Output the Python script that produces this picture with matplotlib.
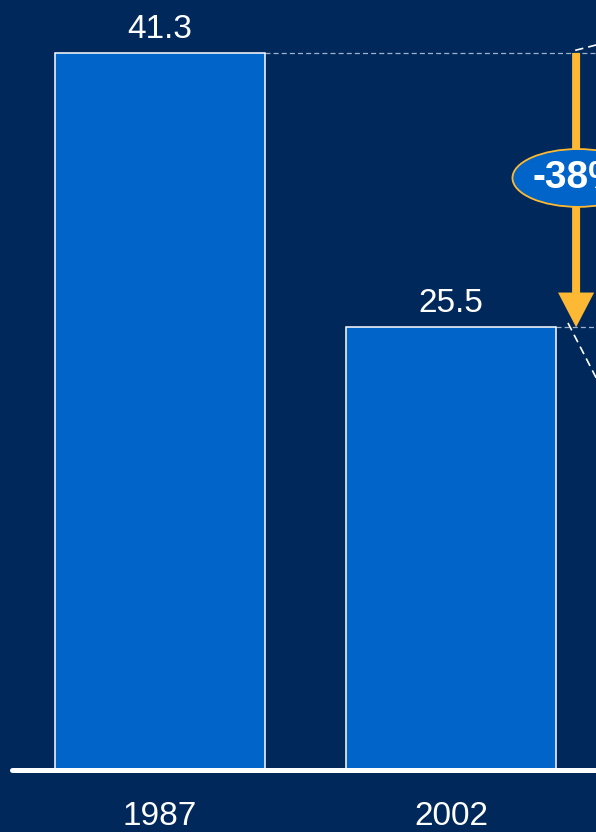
import matplotlib.pyplot as plt
from matplotlib.patches import Ellipse, FancyArrow

years = ["1987", "2002"]
values = [41.3, 25.5]
change = "-38%"

bg = "#00285A"
bar_col = "#0064C8"
gold = "#FDB933"

plt.rcParams['font.family'] = ['Liberation Sans', 'DejaVu Sans']

fig = plt.figure(figsize=(5.96, 8.32), dpi=100, facecolor=bg)
ax = fig.add_axes([0, 0, 1, 1])
ax.set_facecolor(bg)
ax.set_xlim(-0.5498, 1.498)
ax.set_ylim(-3.571, 44.35)
ax.axis("off")

x = [0, 1]
w = 0.72
ax.bar(x, values, width=w, color=bar_col, edgecolor="white", linewidth=1.1, zorder=2)

for xi, v, yr in zip(x, values, years):
    ax.text(xi, v + 0.88, f"{v}", ha="center", va="baseline", color="white", fontsize=24)
    ax.text(xi, -3.17, yr, ha="center", va="baseline", color="white", fontsize=24)

# baseline
ax.plot([-0.509, 1.6], [0, 0], color="white", lw=3.6, solid_capstyle="round", zorder=3)

# dashed reference lines
ax.plot([w / 2, 1.6], [values[0], values[0]], color="#9FB3CF", lw=0.9,
        ls=(0, (4, 2.5)), zorder=1)
ax.plot([1 + w / 2, 1.6], [values[1], values[1]], color="#9FB3CF", lw=0.9,
        ls=(0, (4, 2.5)), zorder=1)

# arrow
ax_x = 1.4296
arr = FancyArrow(ax_x, values[0], 0, values[1] - values[0], width=0.0275,
                 head_width=0.124, head_length=2.0, length_includes_head=True,
                 color=gold, lw=0, zorder=4)
ax.add_patch(arr)

# diagonal zoom lines
ax.plot([ax_x - 0.003, ax_x + 0.09], [values[0] + 0.15, values[0] + 0.55],
        color="white", lw=1.2, ls=(0, (5, 3)), zorder=3)
ax.plot([ax_x - 0.028, ax_x + 0.09], [values[1] + 0.25, values[1] - 3.6],
        color="white", lw=1.2, ls=(0, (5, 3)), zorder=3)

# change label
ex, ey = 1.436, 34.1
ell = Ellipse((ex, ey), 0.45, 3.33, facecolor=bar_col, edgecolor=gold, lw=1.3, zorder=5)
ax.add_patch(ell)
ax.text(ex, ey, change, ha="center", va="center", color="white", fontsize=28,
        fontweight="bold", zorder=6)

fig.savefig("out.png", dpi=100, facecolor=bg)
